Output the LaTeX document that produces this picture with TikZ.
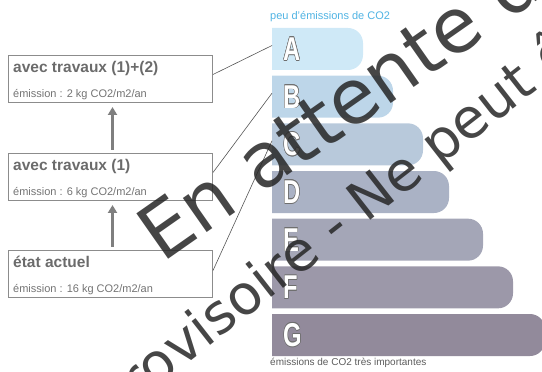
\documentclass[tikz,border=0pt]{standalone}
\usepackage{fontspec}
\setmainfont{Liberation Sans}
\newfontfamily\wmfont{DejaVu Sans}
\usepackage{xcolor}
\usetikzlibrary{positioning,arrows.meta,calc}

\definecolor{boxgray}{HTML}{8C8C8C}
\definecolor{titlegray}{HTML}{6B6B6B}
\definecolor{textgray}{HTML}{737373}
\definecolor{arrowgray}{HTML}{7F7F7F}
\definecolor{linegray}{HTML}{555555}
\definecolor{lowblue}{HTML}{4FB3E3}
\definecolor{outlgray}{HTML}{6E6E6E}
\definecolor{classA}{HTML}{CFE9F7}
\definecolor{classB}{HTML}{BDD6E9}
\definecolor{classC}{HTML}{B8C9DB}
\definecolor{classD}{HTML}{AAB2C5}
\definecolor{classE}{HTML}{A4A6B7}
\definecolor{classF}{HTML}{9C98A9}
\definecolor{classG}{HTML}{928A9B}

% outlined class letter, set in one box
\newcommand\contourcopy[3]{\makebox[0pt][l]{\kern#1\raisebox{#2}{\textcolor{outlgray}{#3}}}}
\newcommand\etiq[1]{\scalebox{0.72}[1]{%
    \contourcopy{-0.7pt}{0pt}{#1}\contourcopy{0.7pt}{0pt}{#1}%
    \contourcopy{0pt}{-0.7pt}{#1}\contourcopy{0pt}{0.7pt}{#1}%
    \contourcopy{-0.5pt}{-0.5pt}{#1}\contourcopy{0.5pt}{0.5pt}{#1}%
    \contourcopy{-0.5pt}{0.5pt}{#1}\contourcopy{0.5pt}{-0.5pt}{#1}%
    \textcolor{white}{#1}}}

\tikzset{
  etatbox/.style={draw=boxgray, line width=1pt, minimum width=204pt, minimum height=47pt, inner sep=0pt},
  titre/.style={anchor=base west, inner sep=0pt, text=titlegray, font=\fontsize{15.5}{17}\selectfont\bfseries},
  emission/.style={anchor=base west, inner sep=0pt, text=textgray, font=\fontsize{11}{13}\selectfont},
  gain/.style={draw=arrowgray, line width=3pt, -{Triangle[width=9pt,length=8pt]}},
  lien/.style={draw=linegray, line width=0.6pt},
  lettre/.style={anchor=west, inner sep=0pt, font=\fontsize{33}{33}\selectfont\bfseries},
  filigrane/.style={anchor=base west, inner sep=0pt, text=black!85, text opacity=0.85},
}

\begin{document}
\begin{tikzpicture}[x=1pt,y=1pt]
    \useasboundingbox (0,0) rectangle (542,372);

    % Boxes
    \node[etatbox, anchor=north west] (box1) at (8,317) {};
    \node[etatbox, below=50pt of box1] (box2) {};
    \node[etatbox, below=49pt of box2] (box3) {};
    \node[titre] (t1) at ([shift={(5pt,-18pt)}]box1.north west) {avec travaux (1)+(2)};
    \node[emission] (e1) at ([shift={(5pt,5.5pt)}]box1.south west) {émission : 2 kg CO2/m2/an};
    \node[titre] (t2) at ([shift={(5pt,-18pt)}]box2.north west) {avec travaux (1)};
    \node[emission] (e2) at ([shift={(5pt,5.5pt)}]box2.south west) {émission : 6 kg CO2/m2/an};
    \node[titre] (t3) at ([shift={(5pt,-18pt)}]box3.north west) {état actuel};
    \node[emission] (e3) at ([shift={(5pt,5.5pt)}]box3.south west) {émission : 16 kg CO2/m2/an};

    % Arrows between boxes
    \draw[gain] ([shift={(2pt,3pt)}]box2.north) -- ([shift={(2pt,-4pt)}]box1.south);
    \draw[gain] ([shift={(2pt,3pt)}]box3.north) -- ([shift={(2pt,-4pt)}]box2.south);

    % Energy classes
    \foreach \cls/\n/\xend in {A/0/363, B/1/393, C/2/423, D/3/449, E/4/483, F/5/513, G/6/545} {
        \pgfmathsetmacro\ytop{344-47.67*\n}
        \pgfmathsetmacro\ybot{\ytop-42}
        \pgfmathsetmacro\ymid{\ytop-21}
        \fill[class\cls] (272,\ybot) -- (272,\ytop) -- (\xend-15,\ytop)
            arc[start angle=90, end angle=0, radius=15] -- (\xend,\ybot+15)
            arc[start angle=0, end angle=-90, radius=15] -- cycle;
        \coordinate (bar\cls) at (272,\ytop-17.5);
        \node[lettre] (lettre\cls) at (283,\ymid) {\etiq{\cls}};
    }
    \node[anchor=base west, inner sep=0pt, text=lowblue, font=\fontsize{11}{13}\selectfont] (peu) at (270,352) {peu d'émissions de CO2};
    \node[anchor=base west, inner sep=0pt, text=textgray!80!black, font=\fontsize{10}{12}\selectfont] (tres) at (270,6) {émissions de CO2 très importantes};

    % Links to the classes
    \draw[lien] ([yshift=4.5pt]box1.east) -- (barA);
    \draw[lien] ([yshift=4.5pt]box2.east) -- (barB);
    \draw[lien] ([yshift=3.5pt]box3.east) -- (barC);

    % Watermark
    \begin{scope}
        \clip (0,0) rectangle (542,372);
        \node[filigrane, font=\wmfont\fontsize{76}{76}\selectfont, rotate=35] (wm1) at (162,108) {En attente d};
        \node[filigrane, font=\wmfont\fontsize{55}{55}\selectfont, rotate=38] (wm2) at (110,-52) {provisoire - Ne peut être};
    \end{scope}
\end{tikzpicture}
\end{document}
